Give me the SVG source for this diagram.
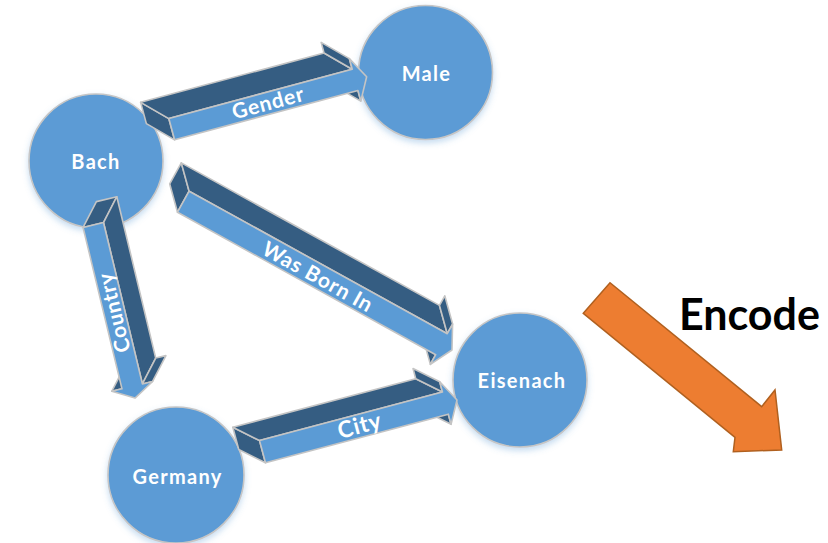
<svg xmlns="http://www.w3.org/2000/svg" width="828" height="543" viewBox="0 0 828 543">
  <style>
    .node { fill: #5B9BD5; stroke: #c6c6c6; stroke-width: 1.6; filter: url(#glow); }
    .nlabel { font-family: Lato, "Open Sans", "Liberation Sans", sans-serif; font-weight: bold; font-size: 20px; fill: #ffffff; text-anchor: middle; letter-spacing: 1.3px; }
    .face { stroke: #c4c4c4; stroke-width: 1.6; stroke-linejoin: round; }
    .lt { fill: #5B9BD5; }
    .dk { fill: #355D82; }
    .elabel { font-family: Lato, "Open Sans", "Liberation Sans", sans-serif; font-weight: bold; font-size: 21px; fill: #ffffff; text-anchor: middle; letter-spacing: 0.8px; }
    .big { font-family: Lato, "Open Sans", "Liberation Sans", sans-serif; font-weight: bold; font-size: 43px; fill: #000000; }
  </style>
  <defs>
    <filter id="glow" x="-20%" y="-20%" width="140%" height="150%">
      <feDropShadow dx="0" dy="3" stdDeviation="3" flood-color="#5B9BD5" flood-opacity="0.35"/>
    </filter>
  </defs>

  <rect width="828" height="543" fill="#ffffff"/>

  <!-- nodes -->
  <g id="bach">
    <circle class="node" cx="96" cy="161" r="67"/>
    <text class="nlabel" x="96" y="169">Bach</text>
  </g>
  <g id="male">
    <circle class="node" cx="425.5" cy="72.5" r="67"/>
    <text class="nlabel" x="426.5" y="80.5">Male</text>
  </g>
  <g id="eisenach">
    <circle class="node" cx="520" cy="380" r="67"/>
    <text class="nlabel" x="522" y="387.5">Eisenach</text>
  </g>
  <g id="germany">
    <circle class="node" cx="176" cy="475" r="68"/>
    <text class="nlabel" x="177.5" y="483.5">Germany</text>
  </g>

  <!-- connectors: extruded block arrows, drawn in their own frame (x along the arrow) -->
  <g id="connectors">
    <g id="edge-gender" transform="translate(171.7,129.2) rotate(-15.07)">
      <polygon class="face dk" points="189.9,11 189.9,22 166.9,-1 166.9,-12"/>
      <polygon class="face dk" points="0,-11 0,11 -23,-12 -23,-34"/>
      <polygon class="face dk" points="0,-11 189.9,-11 166.9,-34 -23,-34"/>
      <polygon class="face dk" points="189.9,-11 189.9,-22 166.9,-45 166.9,-34"/>
      <polygon class="face lt" points="0,-11 189.9,-11 189.9,-22 201.9,0 189.9,22 189.9,11 0,11"/>
      <text class="elabel" x="100" y="7">Gender</text>
    </g>
    <g id="edge-country" transform="translate(93.3,225) rotate(76.45)">
      <polygon class="face dk" points="166,10.5 166,21 144,2 144,-8.5"/>
      <polygon class="face dk" points="0,-10.5 0,10.5 -22,-8.5 -22,-29.5"/>
      <polygon class="face dk" points="0,-10.5 166,-10.5 144,-29.5 -22,-29.5"/>
      <polygon class="face dk" points="166,-10.5 166,-21 144,-40 144,-29.5"/>
      <polygon class="face lt" points="0,-10.5 166,-10.5 166,-21 178,0 166,21 166,10.5 0,10.5"/>
      <text class="elabel" transform="translate(90,0) rotate(180)" y="7">Country</text>
    </g>
    <g id="edge-bornin" transform="translate(183.3,201.7) rotate(28.9)">
      <polygon class="face dk" points="294.9,12 294.9,23 274.4,2 274.4,-9"/>
      <polygon class="face dk" points="0,-12 0,12 -20.5,-9 -20.5,-33"/>
      <polygon class="face dk" points="0,-12 294.9,-12 274.4,-33 -20.5,-33"/>
      <polygon class="face dk" points="294.9,-12 294.9,-23 274.4,-44 274.4,-33"/>
      <polygon class="face lt" points="0,-12 294.9,-12 294.9,-23 306.9,0 294.9,23 294.9,12 0,12"/>
      <text class="elabel" x="154" y="8">Was Born In</text>
    </g>
    <g id="edge-city" transform="translate(262.5,451.7) rotate(-14.89)">
      <polygon class="face dk" points="189.25,11.5 189.25,22 166.85,2.3 166.85,-8.2"/>
      <polygon class="face dk" points="0,-11.5 0,11.5 -22.4,-8.2 -22.4,-31.2"/>
      <polygon class="face dk" points="0,-11.5 189.25,-11.5 166.85,-31.2 -22.4,-31.2"/>
      <polygon class="face dk" points="189.25,-11.5 189.25,-22 166.85,-41.7 166.85,-31.2"/>
      <polygon class="face lt" points="0,-11.5 189.25,-11.5 189.25,-22 201.25,0 189.25,22 189.25,11.5 0,11.5"/>
      <text class="elabel" x="100.6" y="7.5" style="font-size:23px">City</text>
    </g>
  </g>

  <!-- encode step -->
  <g id="encode">
    <polygon points="583.3,313.3 610,282.7 761.7,406.7 775,390 781.7,450 733.3,451.7 735,437.3"
             fill="#ED7D31" stroke="#B0601F" stroke-width="1.5" stroke-linejoin="miter"/>
    <text class="big" x="679" y="330">Encode</text>
  </g>
</svg>
